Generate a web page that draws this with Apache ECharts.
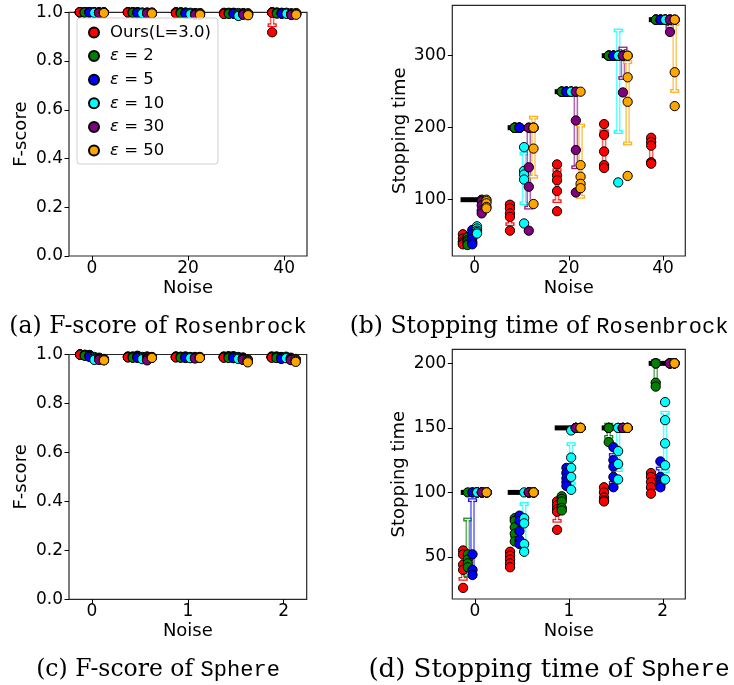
<!DOCTYPE html>
<html>
<head>
<meta charset="utf-8">
<script src="https://cdn.jsdelivr.net/npm/echarts@6/dist/echarts.min.js"></script>
<style>
  html, body { margin: 0; padding: 0; background: #fff; }
  #chart { width: 734px; height: 685px; }
</style>
</head>
<body>
<div id="chart"></div>
<script>
// ---------- data ----------
const methodNames = ['Ours(L=3.0)', 'ε = 2', 'ε = 5', 'ε = 10', 'ε = 30', 'ε = 50'];
const rosenNoise = [0, 10, 20, 30, 40];
const sphereNoise = [0, 0.5, 1, 1.5, 2];
// evaluation budget reached at each noise level
const rosenBudget = [100, 200, 250, 300, 350];
const sphereBudget = [100, 100, 150, 150, 200];

// tick labels
const rosenXTicks = [0, 20, 40];
const sphereXTicks = [0, 1, 2];
const fscoreTicks = [0, 0.2, 0.4, 0.6, 0.8, 1.0];
const rosenTimeTicks = [100, 200, 300];
const sphereTimeTicks = [50, 100, 150, 200];

// Rosenbrock, F-score: five runs per noise level
const fRosenOurs  = [[1,1,1,1,1],[1,1,1,1,0.999],[1,1,0.999,0.997,0.996],[0.998,0.996,0.995,0.994,0.993],[1,1,1,0.998,0.918]];
const fRosenEps2  = [[1,1,1,1,0.999],[1,1,1,0.999,0.998],[1,0.999,0.998,0.997,0.996],[0.998,0.997,0.996,0.995,0.994],[0.999,0.998,0.997,0.996,0.995]];
const fRosenEps5  = [[1,1,1,1,0.999],[1,1,0.999,0.998,0.997],[0.999,0.998,0.997,0.996,0.995],[0.998,0.997,0.996,0.995,0.994],[0.998,0.997,0.996,0.995,0.994]];
const fRosenEps10 = [[1,1,1,0.999,0.998],[0.999,0.998,0.997,0.996,0.995],[0.998,0.996,0.995,0.993,0.992],[0.997,0.994,0.99,0.987,0.985],[0.998,0.997,0.996,0.995,0.994]];
const fRosenEps30 = [[1,1,0.999,0.998,0.997],[0.999,0.998,0.997,0.996,0.995],[0.997,0.995,0.993,0.991,0.99],[0.997,0.995,0.993,0.992,0.99],[0.996,0.994,0.992,0.99,0.989]];
const fRosenEps50 = [[1,1,0.999,0.998,0.997],[0.999,0.998,0.997,0.996,0.995],[0.997,0.995,0.993,0.991,0.99],[0.996,0.994,0.992,0.99,0.988],[0.997,0.995,0.993,0.992,0.99]];
// Rosenbrock, F-score: error bars [low, high]
const fRosenOursErr  = [[1,1],[0.999,1],[0.996,1],[0.993,0.998],[0.947,1]];
const fRosenEps2Err  = [[0.999,1],[0.998,1],[0.996,0.999],[0.994,0.998],[0.995,0.999]];
const fRosenEps5Err  = [[0.999,1],[0.997,1],[0.995,0.999],[0.994,0.998],[0.994,0.998]];
const fRosenEps10Err = [[0.998,1],[0.995,0.999],[0.992,0.998],[0.986,0.996],[0.994,0.998]];
const fRosenEps30Err = [[0.997,1],[0.995,0.999],[0.99,0.997],[0.99,0.997],[0.989,0.995]];
const fRosenEps50Err = [[0.997,1],[0.995,0.999],[0.99,0.997],[0.989,0.996],[0.99,0.997]];

// Rosenbrock, stopping time: five runs per noise level
const tRosenOurs  = [[52,46,42,40,38],[93,88,81,76,57],[149,134,127,112,84],[205,190,167,148,144],[186,180,175,152,150]];
const tRosenEps2  = [[48,44,42,39,37],[200,200,200,200,200],[250,250,250,250,250],[300,300,300,300,300],[350,350,350,350,350]];
const tRosenEps5  = [[58,52,46,41,38],[200,200,200,200,200],[250,250,250,250,250],[300,300,300,300,300],[350,350,350,350,350]];
const tRosenEps10 = [[63,60,57,55,53],[173,140,135,128,67],[250,250,250,250,250],[300,300,300,300,124],[350,350,350,350,350]];
const tRosenEps30 = [[100,98,92,85,81],[200,200,145,118,57],[250,250,210,169,110],[300,300,300,300,249],[350,350,350,350,333]];
const tRosenEps50 = [[100,98,95,90,88],[200,200,200,171,94],[250,148,132,122,116],[300,300,270,236,133],[350,350,350,277,230]];
// Rosenbrock, stopping time: error bars [low, high]
const tRosenOursErr  = [[38,48],[66,95],[98,141],[147,195],[153,183]];
const tRosenEps2Err  = [[39,47],[200,200],[250,250],[300,300],[350,350]];
const tRosenEps5Err  = [[42,56],[200,200],[250,250],[300,300],[350,350]];
const tRosenEps10Err = [[54,62],[95,164],[250,250],[194,335],[350,350]];
const tRosenEps30Err = [[82,95],[89,198],[145,251],[269,310],[340,354]];
const tRosenEps50Err = [[88,97],[132,214],[104,203],[178,291],[251,344]];

// Sphere, F-score: five runs per noise level
const fSphereOurs  = [[1,1,1,1,0.999],[0.992,0.99,0.99,0.989,0.988],[0.992,0.991,0.99,0.989,0.988],[0.992,0.99,0.989,0.988,0.987],[0.992,0.99,0.989,0.988,0.987]];
const fSphereEps2  = [[0.999,0.998,0.997,0.996,0.995],[0.992,0.99,0.989,0.988,0.987],[0.991,0.99,0.989,0.988,0.987],[0.993,0.991,0.99,0.988,0.986],[0.992,0.99,0.988,0.987,0.986]];
const fSphereEps5  = [[0.998,0.996,0.994,0.992,0.99],[0.995,0.992,0.99,0.988,0.986],[0.992,0.99,0.989,0.988,0.986],[0.993,0.991,0.989,0.987,0.985],[0.99,0.988,0.986,0.984,0.982]];
const fSphereEps10 = [[0.99,0.986,0.983,0.98,0.978],[0.99,0.987,0.985,0.983,0.981],[0.99,0.988,0.987,0.986,0.985],[0.99,0.988,0.986,0.984,0.982],[0.991,0.989,0.988,0.986,0.985]];
const fSphereEps30 = [[0.987,0.984,0.982,0.98,0.978],[0.992,0.987,0.984,0.98,0.976],[0.99,0.988,0.986,0.985,0.984],[0.988,0.985,0.982,0.98,0.978],[0.987,0.984,0.981,0.979,0.977]];
const fSphereEps50 = [[0.982,0.98,0.978,0.977,0.976],[0.99,0.989,0.988,0.987,0.986],[0.99,0.989,0.988,0.987,0.986],[0.98,0.977,0.974,0.971,0.968],[0.982,0.979,0.976,0.973,0.97]];
// Sphere, F-score: error bars [low, high]
const fSphereOursErr  = [[0.999,1],[0.988,0.991],[0.988,0.991],[0.987,0.991],[0.987,0.991]];
const fSphereEps2Err  = [[0.995,0.999],[0.987,0.991],[0.987,0.991],[0.987,0.992],[0.986,0.991]];
const fSphereEps5Err  = [[0.991,0.997],[0.987,0.993],[0.987,0.991],[0.986,0.992],[0.983,0.989]];
const fSphereEps10Err = [[0.978,0.989],[0.982,0.989],[0.985,0.989],[0.983,0.989],[0.985,0.99]];
const fSphereEps30Err = [[0.979,0.986],[0.977,0.99],[0.984,0.989],[0.979,0.986],[0.978,0.985]];
const fSphereEps50Err = [[0.976,0.981],[0.986,0.99],[0.986,0.99],[0.969,0.979],[0.971,0.981]];

// Sphere, stopping time: five runs per noise level
const tSphereOurs  = [[55,52,44,40,26],[54,51,48,45,42],[93,90,87,85,71],[104,100,96,94,93],[115,112,108,104,99]];
const tSphereEps2  = [[100,52,48,45,42],[80,78,73,68,62],[97,95,93,88,86],[150,150,150,150,139],[200,200,200,185,182]];
const tSphereEps5  = [[100,100,52,40,36],[82,78,70,63,60],[119,115,111,108,105],[135,125,120,112,104],[124,112,109,106,104]];
const tSphereEps10 = [[100,100,100,100,100],[100,80,76,60,54],[148,127,119,112,102],[150,150,132,122,110],[170,156,138,121,110]];
const tSphereEps30 = [[100,100,100,100,100],[100,100,100,100,100],[150,150,150,150,150],[150,150,150,150,150],[200,200,200,200,200]];
const tSphereEps50 = [[100,100,100,100,100],[100,100,100,100,100],[150,150,150,150,150],[150,150,150,150,150],[200,200,200,200,200]];
// Sphere, stopping time: error bars [low, high]
const tSphereOursErr  = [[33,51],[43,53],[78,93.5],[93,101],[103,115]];
const tSphereEps2Err  = [[36,79],[66,79],[86,96],[143,152.5],[185,202]];
const tSphereEps5Err  = [[37,94],[59,75],[106,115],[107.5,129],[103,118.5]];
const tSphereEps10Err = [[100,100],[56.6,91],[107,137.4],[117.3,149.6],[116.5,161.7]];
const tSphereEps30Err = [[100,100],[100,100],[150,150],[150,150],[200,200]];
const tSphereEps50Err = [[100,100],[100,100],[150,150],[150,150],[200,200]];

// ---------- styling / layout ----------
const methodColors = ['#ff0000', '#008000', '#0000ff', '#00ffff', '#800080', '#ffa500'];
const slotOffsets = [-2.5, -1.5, -0.5, 0.5, 1.5, 2.5];
const FONT = 'DejaVu Sans';

const panels = [
  { grid: { left: 69, top: 12.3, width: 238, height: 243.7 },
    noise: rosenNoise, step: 1, xRange: [-4.75, 44.75], xTicks: rosenXTicks,
    yRange: [0, 1], yTicks: fscoreTicks, yDigits: 1, yName: 'F-score', yGap: 39,
    runs: [fRosenOurs, fRosenEps2, fRosenEps5, fRosenEps10, fRosenEps30, fRosenEps50],
    errs: [fRosenOursErr, fRosenEps2Err, fRosenEps5Err, fRosenEps10Err, fRosenEps30Err, fRosenEps50Err],
    budget: null },
  { grid: { left: 452.3, top: 5.3, width: 233, height: 250.7 },
    noise: rosenNoise, step: 1, xRange: [-4.75, 44.75], xTicks: rosenXTicks,
    yRange: [21.8, 370], yTicks: rosenTimeTicks, yDigits: 0, yName: 'Stopping time', yGap: 43,
    runs: [tRosenOurs, tRosenEps2, tRosenEps5, tRosenEps10, tRosenEps30, tRosenEps50],
    errs: [tRosenOursErr, tRosenEps2Err, tRosenEps5Err, tRosenEps10Err, tRosenEps30Err, tRosenEps50Err],
    budget: rosenBudget },
  { grid: { left: 69, top: 354.5, width: 237.7, height: 244.8 },
    noise: sphereNoise, step: 0.05, xRange: [-0.24, 2.24], xTicks: sphereXTicks,
    yRange: [0, 1], yTicks: fscoreTicks, yDigits: 1, yName: 'F-score', yGap: 39,
    runs: [fSphereOurs, fSphereEps2, fSphereEps5, fSphereEps10, fSphereEps30, fSphereEps50],
    errs: [fSphereOursErr, fSphereEps2Err, fSphereEps5Err, fSphereEps10Err, fSphereEps30Err, fSphereEps50Err],
    budget: null },
  { grid: { left: 452.3, top: 349.3, width: 233, height: 249.7 },
    noise: sphereNoise, step: 0.05, xRange: [-0.24, 2.24], xTicks: sphereXTicks,
    yRange: [17.4, 210.9], yTicks: sphereTimeTicks, yDigits: 0, yName: 'Stopping time', yGap: 44,
    runs: [tSphereOurs, tSphereEps2, tSphereEps5, tSphereEps10, tSphereEps30, tSphereEps50],
    errs: [tSphereOursErr, tSphereEps2Err, tSphereEps5Err, tSphereEps10Err, tSphereEps30Err, tSphereEps50Err],
    budget: sphereBudget }
];

// ---------- renderers ----------
function renderBudget(params, api) {
  const y = api.value(2);
  const p0 = api.coord([api.value(0), y]);
  const p1 = api.coord([api.value(1), y]);
  return { type: 'line', shape: { x1: p0[0], y1: p0[1], x2: p1[0], y2: p1[1] },
           style: { stroke: '#000', lineWidth: 5, lineCap: 'butt' } };
}

function makeErrRenderer(color) {
  return function (params, api) {
    const x = api.value(0);
    const lo = api.coord([x, api.value(1)]);
    const hi = api.coord([x, api.value(2)]);
    const cx = lo[0], half = 4.6;
    const seg = (x1, y1, x2, y2, stroke, w, op) => ({
      type: 'line', shape: { x1, y1, x2, y2 },
      style: { stroke, lineWidth: w, opacity: op, lineCap: 'butt' }
    });
    return { type: 'group', children: [
      seg(cx, lo[1], cx, hi[1], color, 4.6, 0.6),
      seg(cx - half, lo[1], cx + half, lo[1], color, 3.8, 0.9),
      seg(cx - half, hi[1], cx + half, hi[1], color, 3.8, 0.9),
      seg(cx, lo[1], cx, hi[1], '#fff', 1.5, 1),
      seg(cx - half + 1.4, lo[1], cx + half - 1.4, lo[1], '#fff', 1.3, 1),
      seg(cx - half + 1.4, hi[1], cx + half - 1.4, hi[1], '#fff', 1.3, 1)
    ]};
  };
}

// ---------- build option ----------
const grids = [], xAxes = [], yAxes = [], series = [];

panels.forEach((p, gi) => {
  grids.push(Object.assign({ show: true, borderColor: '#262626', borderWidth: 1.2,
                             backgroundColor: 'transparent', containLabel: false }, p.grid));
  xAxes.push({
    gridIndex: gi, type: 'value', min: p.xRange[0], max: p.xRange[1],
    axisLine: { show: false, onZero: false }, splitLine: { show: false },
    axisTick: { show: true, customValues: p.xTicks, length: 4.5, lineStyle: { color: '#000', width: 1 } },
    axisLabel: { customValues: p.xTicks, fontSize: 17, color: '#000', fontFamily: FONT, margin: 4 },
    name: 'Noise', nameLocation: 'middle', nameGap: 23,
    nameTextStyle: { fontSize: 18, color: '#000', fontFamily: FONT }
  });
  yAxes.push({
    gridIndex: gi, type: 'value', min: p.yRange[0], max: p.yRange[1],
    axisLine: { show: false, onZero: false }, splitLine: { show: false },
    axisTick: { show: true, customValues: p.yTicks, length: 4.5, lineStyle: { color: '#000', width: 1 } },
    axisLabel: { customValues: p.yTicks, fontSize: 17, color: '#000', fontFamily: FONT, margin: 6,
                 formatter: v => Number(v).toFixed(p.yDigits) },
    name: p.yName, nameLocation: 'middle', nameGap: p.yGap, nameRotate: 90,
    nameTextStyle: { fontSize: 18, color: '#000', fontFamily: FONT }
  });

  if (p.budget) {
    series.push({
      type: 'custom', name: 'budget', xAxisIndex: gi, yAxisIndex: gi, silent: true,
      renderItem: renderBudget, encode: { x: [0, 1], y: 2 },
      data: p.budget.map((b, i) => [p.noise[i] - 3.0 * p.step, p.noise[i] + 1.0 * p.step, b])
    });
  }

  methodNames.forEach((name, m) => {
    const xOf = i => p.noise[i] + slotOffsets[m] * p.step;
    series.push({
      type: 'scatter', name, xAxisIndex: gi, yAxisIndex: gi, clip: false,
      symbol: 'circle', symbolSize: 9.3,
      itemStyle: { color: methodColors[m], borderColor: '#000', borderWidth: 1, opacity: 1 },
      emphasis: { disabled: true },
      data: p.runs[m].flatMap((vals, i) => vals.map(v => [xOf(i), v]))
    });
    series.push({
      type: 'custom', name: 'err-' + name, xAxisIndex: gi, yAxisIndex: gi, silent: true,
      renderItem: makeErrRenderer(methodColors[m]), encode: { x: 0, y: [1, 2] },
      data: p.errs[m].map((e, i) => [xOf(i), e[0], e[1]])
    });
  });
});

const captionRich = {
  r: { fontFamily: 'DejaVu Serif', fontSize: 23.5, color: '#000' },
  m: { fontFamily: 'Liberation Mono', fontSize: 22, color: '#000' },
  r2: { fontFamily: 'DejaVu Serif', fontSize: 26, color: '#000' },
  m2: { fontFamily: 'Liberation Mono', fontSize: 24.5, color: '#000' }
};
const captions = [
  { x: 158, y: 327, text: '{r|(a) F-score of }{m|Rosenbrock}' },
  { x: 539, y: 327, text: '{r|(b) Stopping time of }{m|Rosenbrock}' },
  { x: 158, y: 670, text: '{r|(c) F-score of }{m|Sphere}' },
  { x: 549, y: 670, text: '{r2|(d) Stopping time of }{m2|Sphere}' }
];

const option = {
  animation: false,
  backgroundColor: '#fff',
  grid: grids,
  xAxis: xAxes,
  yAxis: yAxes,
  legend: {
    data: methodNames, orient: 'vertical', left: 77, top: 18,
    itemWidth: 22, itemHeight: 10, itemGap: 6.6,
    padding: [6, 7, 5, 11],
    backgroundColor: 'rgba(255,255,255,0.85)', borderColor: '#d0d0d0', borderWidth: 1, borderRadius: 3,
    selectedMode: false,
    textStyle: { fontSize: 16.5, color: '#000', fontFamily: FONT, lineHeight: 16,
      rich: {
        e: { fontSize: 16.5, fontStyle: 'italic', fontFamily: FONT, color: '#000', lineHeight: 16 },
        t: { fontSize: 16.5, fontFamily: FONT, color: '#000', lineHeight: 16 }
      } },
    formatter: n => n.startsWith('ε') ? '{e|ε}{t|' + n.slice(1) + '}' : '{t|' + n + '}'
  },
  graphic: captions.map(c => ({
    type: 'text', x: c.x, y: c.y, silent: true,
    style: { text: c.text, rich: captionRich, align: 'center', verticalAlign: 'middle' }
  })),
  series
};

const chart = echarts.init(document.getElementById('chart'), null, { renderer: 'canvas' });
chart.setOption(option);
</script>
</body>
</html>
